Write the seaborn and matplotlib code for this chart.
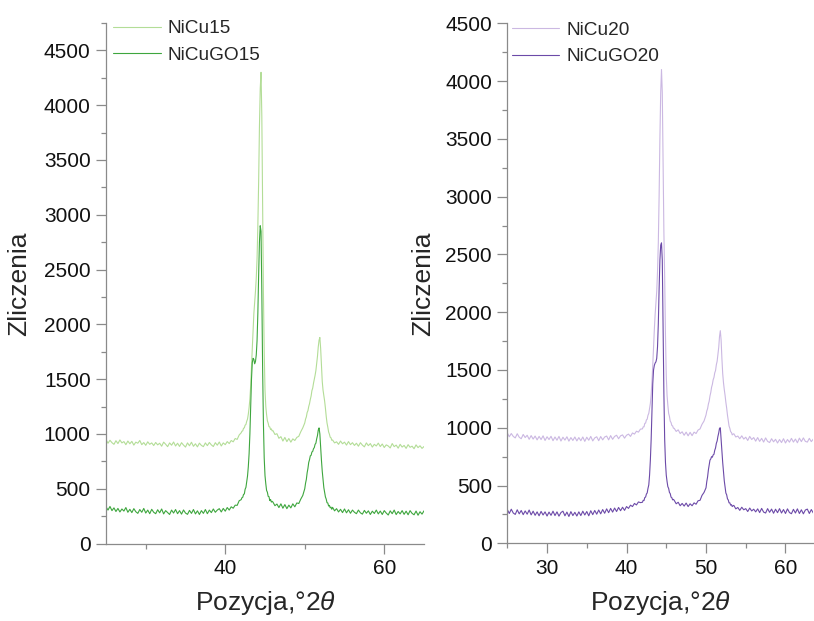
import numpy as np
import pandas as pd
import matplotlib
matplotlib.use("Agg")
import matplotlib.pyplot as plt
from matplotlib.ticker import MultipleLocator
import seaborn as sns

# ---------------- data ----------------
# segment boundaries in 2theta (deg); values in each segment are sampled evenly
bounds_left = [25.0, 42.0, 46.0, 50.0, 53.5, 65.0]
bounds_right = [25.0, 42.0, 46.0, 50.0, 53.5, 63.5]

# NiCu15 (light green)
nicu15_a = [948, 915, 942, 920, 905, 938, 912, 945, 918, 930, 902, 935,
            910, 932, 898, 925, 915, 940, 902, 921, 896, 928, 905, 918,
            894, 922, 900, 915, 888, 925, 906, 884, 918, 897, 926, 890,
            915, 886, 920, 898, 880, 918, 892, 924, 887, 910, 882, 916,
            895, 884, 918, 893, 922, 900, 885, 920, 897, 926, 890, 918,
            902, 930, 912, 940, 928, 958, 950, 990]
nicu15_b = [1010, 1025, 1028, 1052, 1055, 1080, 1086, 1115, 1135, 1180,
            1240, 1320, 1440, 1600, 1780, 1950, 2100, 2200, 2300, 2420,
            2600, 2900, 3300, 3800, 4150, 4300, 3900, 3100, 2300, 1750,
            1400, 1250, 1175, 1120, 1098, 1066, 1064, 1040, 1046, 1028]
nicu15_c = [1030, 995, 1002, 960, 975, 935, 968, 930, 958, 925, 955, 940,
            968, 978, 1020, 1055]
nicu15_d = [1100, 1135, 1155, 1195, 1212, 1250, 1276, 1315, 1345, 1395,
            1418, 1462, 1498, 1535, 1578, 1645, 1708, 1795, 1855, 1880,
            1780, 1620, 1480, 1400, 1350, 1300, 1235, 1160, 1100, 1062,
            1018, 998, 970, 965, 942]
nicu15_e = [945, 918, 928, 905, 935, 910, 925, 898, 930, 902, 920, 895,
            915, 888, 920, 898, 882, 918, 893, 912, 880, 905, 890, 916,
            885, 908, 876, 900, 890, 872, 912, 884, 898, 870, 905, 880,
            895, 868, 902, 878, 888, 865, 900, 875, 892, 868, 885]

# NiCuGO15 (green)
nicugo15_a = [335, 305, 338, 300, 325, 292, 320, 288, 315, 296, 328, 285,
              312, 282, 318, 290, 275, 310, 285, 320, 278, 305, 272, 312,
              285, 272, 308, 280, 315, 270, 300, 282, 265, 305, 278, 310,
              272, 300, 268, 306, 278, 266, 302, 275, 310, 270, 298, 265,
              300, 275, 310, 272, 305, 282, 315, 285, 305, 318, 288, 320,
              295, 328, 305, 335, 322, 350, 348, 390]
nicugo15_b = [400, 418, 422, 448, 452, 495, 512, 565, 615, 700,
              820, 1000, 1250, 1500, 1650, 1690, 1680, 1640, 1660, 1720,
              1850, 2100, 2450, 2750, 2900, 2850, 2300, 1600, 1100, 780,
              620, 545, 484, 468, 430, 428, 392, 402, 378, 385]
nicugo15_c = [378, 345, 360, 328, 362, 322, 355, 318, 350, 325, 362, 335,
              370, 365, 405, 438]
nicugo15_d = [500, 550, 585, 645, 685, 740, 765, 800, 805, 835,
              840, 865, 875, 905, 915, 955, 985, 1035, 1055, 1000,
              880, 760, 660, 580, 510, 465, 425, 405, 372, 370,
              342, 348, 326, 332, 312]
nicugo15_e = [330, 298, 318, 288, 312, 282, 315, 280, 308, 276, 305, 285,
              272, 305, 280, 268, 302, 276, 298, 265, 295, 274, 305, 270,
              296, 265, 300, 278, 260, 298, 272, 305, 264, 292, 270, 300,
              266, 295, 262, 300, 275, 262, 296, 258, 290, 268, 298]

# NiCu20 (light purple)
nicu20_a = [955, 922, 950, 925, 912, 948, 918, 905, 942, 915, 935, 900,
            932, 902, 928, 895, 925, 898, 930, 890, 922, 898, 926, 888,
            920, 892, 925, 885, 918, 893, 922, 884, 915, 890, 920, 886,
            915, 888, 920, 882, 918, 892, 925, 886, 912, 922, 888, 924,
            895, 920, 928, 895, 932, 900, 925, 935, 905, 930, 938, 910,
            935, 945, 925, 955, 945, 970, 962, 988]
nicu20_b = [990, 1008, 1008, 1038, 1040, 1068, 1074, 1108, 1124, 1168,
            1210, 1290, 1400, 1540, 1700, 1850, 1980, 2080, 2180, 2350,
            2600, 3000, 3500, 3900, 4100, 3900, 3300, 2700, 2300, 1800,
            1450, 1280, 1195, 1125, 1098, 1056, 1046, 1020, 1016, 996]
nicu20_c = [995, 968, 982, 950, 965, 935, 962, 930, 960, 932, 962, 950,
            980, 990, 1030, 1058]
nicu20_d = [1110, 1145, 1165, 1205, 1230, 1275, 1305, 1350, 1375, 1415,
            1435, 1475, 1495, 1545, 1575, 1635, 1695, 1790, 1840, 1760,
            1600, 1470, 1390, 1330, 1280, 1220, 1170, 1110, 1065, 1015,
            995, 965, 960, 938, 945]
nicu20_e = [948, 920, 928, 905, 930, 902, 918, 890, 925, 898, 915, 884,
            915, 882, 908, 876, 912, 882, 872, 905, 878, 900, 868, 898,
            872, 905, 868, 898, 875, 908, 876, 902, 870, 910, 880, 912,
            882, 876, 908, 880, 902]

# NiCuGO20 (purple)
nicugo20_a = [292, 258, 295, 262, 250, 290, 255, 284, 248, 280, 252, 288,
              246, 278, 242, 272, 238, 276, 245, 272, 236, 270, 242, 278,
              240, 272, 235, 266, 278, 238, 270, 232, 274, 240, 268, 236,
              272, 240, 278, 245, 275, 238, 282, 248, 284, 252, 288, 255,
              292, 260, 298, 265, 302, 270, 305, 275, 310, 282, 312, 285,
              318, 302, 330, 318, 345, 332, 358, 352]
nicugo20_b = [355, 372, 370, 396, 400, 426, 436, 475, 505, 590,
              720, 900, 1150, 1380, 1500, 1540, 1560, 1570, 1600, 1700,
              1900, 2200, 2450, 2580, 2600, 2450, 1900, 1300, 900, 700,
              590, 535, 490, 475, 440, 430, 400, 395, 376, 380]
nicugo20_c = [372, 342, 355, 325, 345, 322, 348, 318, 342, 325, 350, 338,
              368, 372, 415, 440]
nicugo20_d = [480, 535, 575, 635, 675, 720, 730, 750, 745, 765,
              770, 805, 825, 865, 885, 925, 955, 995, 1000, 900,
              800, 700, 620, 540, 485, 435, 420, 385, 375, 350,
              350, 330, 335, 318, 325]
nicugo20_e = [328, 298, 310, 285, 312, 290, 300, 275, 305, 280, 295, 272,
              298, 266, 302, 270, 262, 300, 268, 296, 260, 295, 265, 300,
              262, 292, 258, 298, 266, 256, 294, 262, 298, 258, 290, 255,
              288, 296, 258, 292, 262]

labels_left = ["NiCu15", "NiCuGO15"]
labels_right = ["NiCu20", "NiCuGO20"]
colors_left = ["#b3dd97", "#3ea63e"]
colors_right = ["#cbb8e2", "#6c4aa8"]


def build(bounds, segs):
    xs = []
    for i, s in enumerate(segs):
        last = i == len(segs) - 1
        xs.append(np.linspace(bounds[i], bounds[i + 1], len(s), endpoint=last))
    return np.concatenate(xs), np.concatenate([np.asarray(s, float) for s in segs])


series_left = [
    build(bounds_left, [nicu15_a, nicu15_b, nicu15_c, nicu15_d, nicu15_e]),
    build(bounds_left, [nicugo15_a, nicugo15_b, nicugo15_c, nicugo15_d, nicugo15_e]),
]
series_right = [
    build(bounds_right, [nicu20_a, nicu20_b, nicu20_c, nicu20_d, nicu20_e]),
    build(bounds_right, [nicugo20_a, nicugo20_b, nicugo20_c, nicugo20_d, nicugo20_e]),
]

# ---------------- style ----------------
sns.set_style("ticks")
plt.rcParams["font.family"] = ["Liberation Sans", "DejaVu Sans"]
plt.rcParams["mathtext.fontset"] = "custom"
plt.rcParams["mathtext.rm"] = "Liberation Sans"
plt.rcParams["mathtext.it"] = "Liberation Sans:italic"

GREY = "#8a8a8a"
W, H = 814, 621
fig = plt.figure(figsize=(W / 100, H / 100), dpi=100)
axL = fig.add_axes([106 / W, (H - 543.5) / H, 318 / W, 520.5 / H])
axR = fig.add_axes([507.3 / W, (H - 543.3) / H, 306 / W, 520 / H])


def style(ax, xlim, ylim, xmajor):
    ax.set_xlim(*xlim)
    ax.set_ylim(*ylim)
    ax.xaxis.set_major_locator(MultipleLocator(xmajor))
    ax.xaxis.set_minor_locator(MultipleLocator(xmajor / 2))
    ax.yaxis.set_major_locator(MultipleLocator(500))
    ax.yaxis.set_minor_locator(MultipleLocator(250))
    for side in ("top", "right"):
        ax.spines[side].set_visible(False)
    for side in ("left", "bottom"):
        ax.spines[side].set_color(GREY)
        ax.spines[side].set_linewidth(0.9)
    ax.tick_params(which="major", length=7, width=0.9, color=GREY,
                   labelsize=15, labelcolor="#111111", pad=4, direction="out")
    ax.tick_params(which="minor", length=3.6, width=0.9, color=GREY, direction="out")
    ax.set_ylabel("Zliczenia", fontsize=19)
    ax.set_xlabel(r"Pozycja,°2$\theta$", fontsize=19)
    ax.yaxis.set_label_coords(-0.235, 0.5)
    ax.xaxis.set_label_coords(0.5, -0.088)


for ax, series, labels, colors in [
    (axL, series_left, labels_left, colors_left),
    (axR, series_right, labels_right, colors_right),
]:
    for (x, y), lab, c in zip(series, labels, colors):
        sns.lineplot(x=x, y=y, ax=ax, color=c, linewidth=0.8, label=lab,
                     sort=False, estimator=None)

style(axL, (25, 65), (0, 4750), 20)
style(axR, (25, 63.5), (0, 4500), 10)

axL.legend(loc="upper left", bbox_to_anchor=(0.022, 1.006), frameon=False,
           fontsize=13.7, handlelength=2.5, handletextpad=0.35,
           labelspacing=0.5, borderaxespad=0, borderpad=0)
axR.legend(loc="upper left", bbox_to_anchor=(0.015, 1.004), frameon=False,
           fontsize=13.7, handlelength=2.5, handletextpad=0.35,
           labelspacing=0.5, borderaxespad=0, borderpad=0)

fig.savefig("out.png", dpi=100)
